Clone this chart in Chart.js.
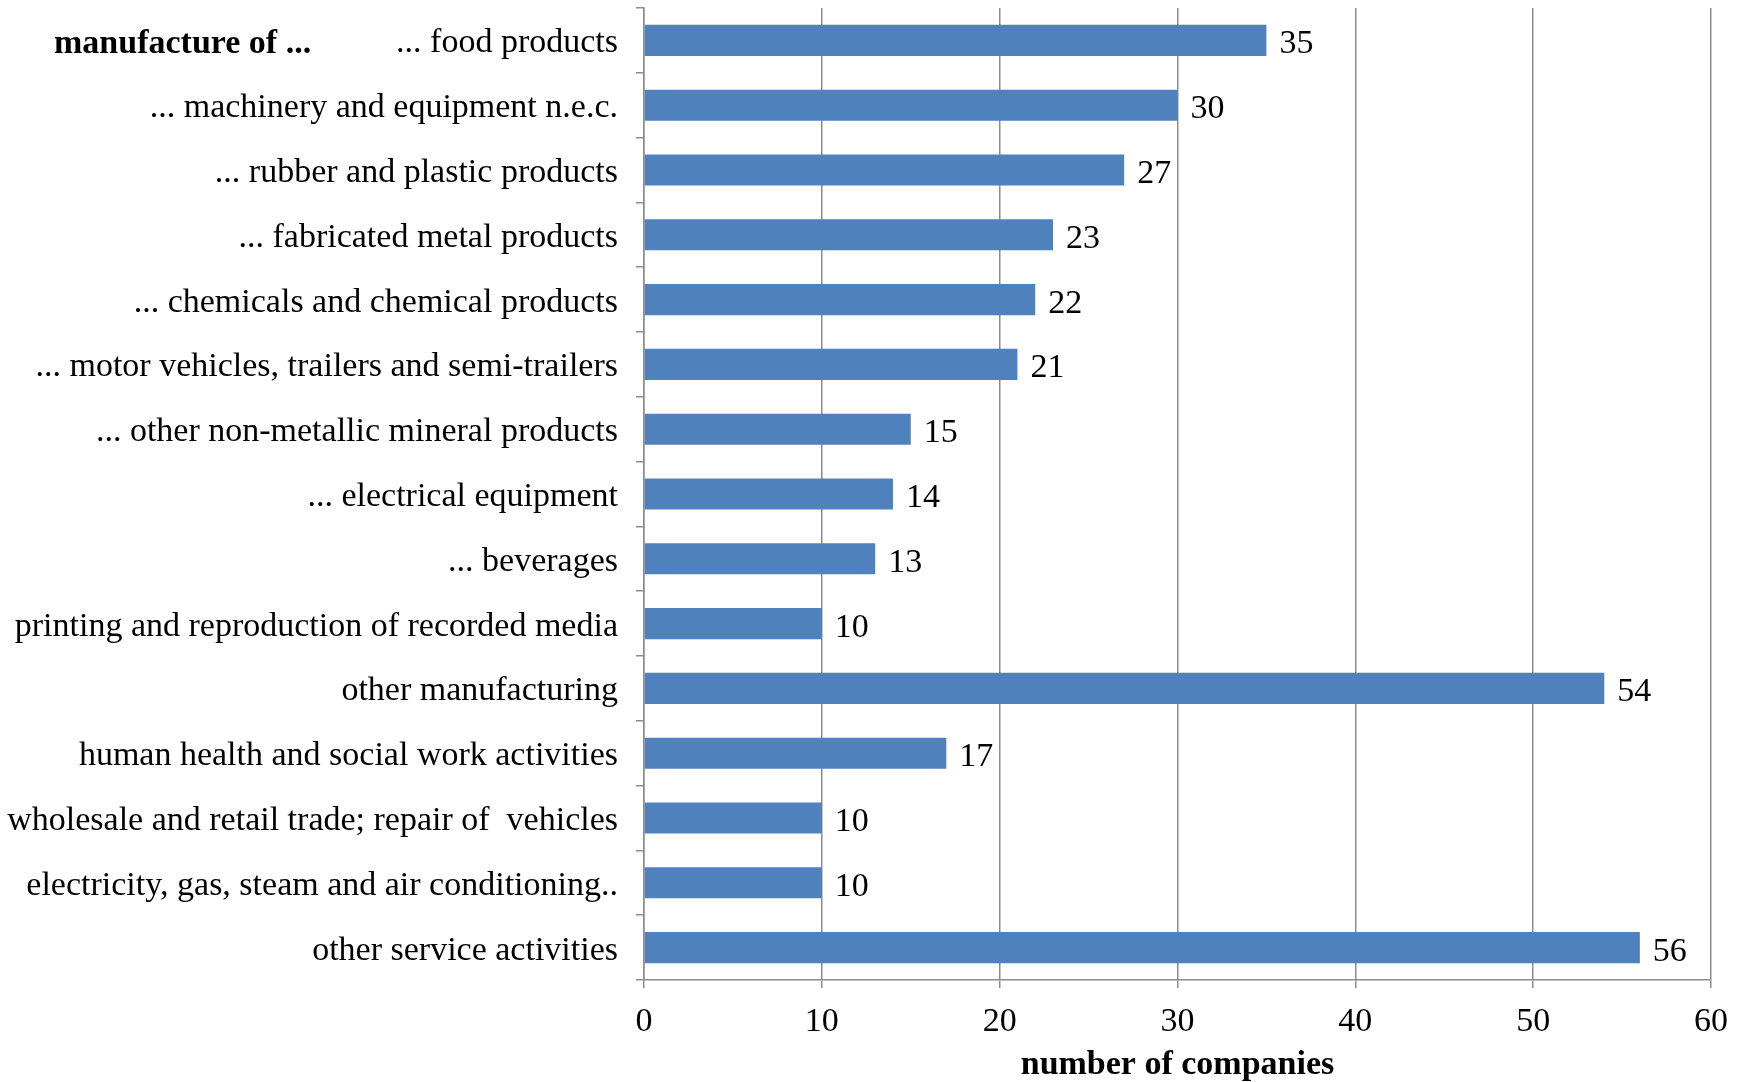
<!DOCTYPE html>
<html>
<head>
<meta charset="utf-8">
<script src="https://cdn.jsdelivr.net/npm/chart.js@4.4.1/dist/chart.umd.min.js"></script>
<style>
  html, body { margin: 0; padding: 0; background: #fff; }
  #wrap { width: 1747px; height: 1082px; }
</style>
</head>
<body>
<div id="wrap"><canvas id="barChart" width="1747" height="1082"></canvas></div>
<script>
// categories, top to bottom
const categories = [
    '... food products',
    '... machinery and equipment n.e.c.',
    '... rubber and plastic products',
    '... fabricated metal products',
    '... chemicals and chemical products',
    '... motor vehicles, trailers and semi-trailers',
    '... other non-metallic mineral products',
    '... electrical equipment',
    '... beverages',
    'printing and reproduction of recorded media',
    'other manufacturing',
    'human health and social work activities',
    'wholesale and retail trade; repair of  vehicles',
    'electricity, gas, steam and air conditioning..',
    'other service activities'
];
const companies = [35, 30, 27, 23, 22, 21, 15, 14, 13, 10, 54, 17, 10, 10, 56];
const xTicks = [0, 10, 20, 30, 40, 50, 60];
const groupLabel = 'manufacture of ...';
const axisTitle = 'number of companies';

const serif = "'Liberation Serif', 'Times New Roman', serif";
const fontSize = 34;
const gridGrey = '#8c8c8c';

// valores ao lado das barras
const valueLabels = {
    id: 'valueLabels',
    afterDatasetsDraw(chart) {
        const ctx = chart.ctx;
        const meta = chart.getDatasetMeta(0);
        ctx.save();
        ctx.font = fontSize + 'px ' + serif;
        ctx.fillStyle = '#000';
        ctx.textAlign = 'left';
        ctx.textBaseline = 'middle';
        meta.data.forEach((bar, i) => {
            ctx.fillText(String(companies[i]), bar.x + 13, bar.y + 4);
        });
        // "manufacture of ..." no primeiro rótulo
        const y0 = chart.scales.y.getPixelForValue(0);
        ctx.font = 'bold ' + fontSize + 'px ' + serif;
        ctx.fillText(groupLabel, 54, y0 + 4);
        ctx.restore();
    }
};

const ctx = document.getElementById('barChart').getContext('2d');
new Chart(ctx, {
    type: 'bar',
    data: {
        labels: categories,
        datasets: [{
            data: companies,
            backgroundColor: '#4F81BD',
            borderWidth: 0,
            categoryPercentage: 1,
            barPercentage: 0.48
        }]
    },
    options: {
        indexAxis: 'y',
        responsive: false,
        animation: false,
        layout: { padding: { top: 8, right: 36, left: 0, bottom: 0 } },
        plugins: {
            legend: { display: false },
            tooltip: { enabled: false }
        },
        scales: {
            x: {
                min: 0,
                max: 60,
                afterBuildTicks: (scale) => {
                    scale.ticks = xTicks.map(v => ({ value: v }));
                },
                afterFit: (scale) => {
                    scale.height = 102;
                    scale.paddingLeft = 0;
                    scale.paddingRight = 0;
                },
                grid: {
                    color: gridGrey,
                    lineWidth: 1.5,
                    tickLength: 8,
                    drawTicks: true
                },
                border: { color: gridGrey, width: 1.5 },
                ticks: {
                    color: '#000',
                    font: { family: serif, size: fontSize },
                    padding: 14
                },
                title: {
                    display: true,
                    text: axisTitle,
                    color: '#000',
                    font: { family: serif, size: fontSize, weight: 'bold' },
                    padding: { top: 0, bottom: -4 }
                }
            },
            y: {
                afterFit: (scale) => {
                    scale.width = 644;
                    scale.paddingTop = 0;
                    scale.paddingBottom = 0;
                },
                grid: {
                    drawOnChartArea: false,
                    offset: true,
                    tickLength: 8,
                    color: gridGrey,
                    lineWidth: 1.5
                },
                border: { color: gridGrey, width: 1.5 },
                ticks: {
                    color: '#000',
                    font: { family: serif, size: fontSize },
                    padding: 18,
                    labelOffset: 3,
                    autoSkip: false
                }
            }
        }
    },
    plugins: [valueLabels]
});
</script>
</body>
</html>
